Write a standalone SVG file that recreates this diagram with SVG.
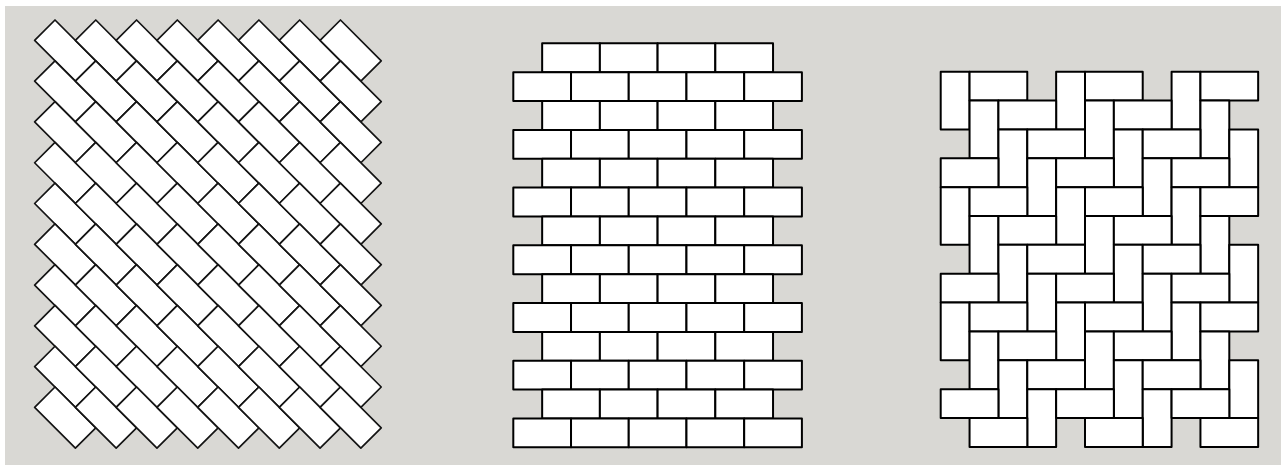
<svg xmlns="http://www.w3.org/2000/svg" xmlns:xlink="http://www.w3.org/1999/xlink" width="1281" height="465" viewBox="0 0 1281 465">
<style>
.l{fill:#fff;stroke:#141414;stroke-width:1.7;stroke-linejoin:round}
.m{fill:#fff;stroke:#000;stroke-width:2;stroke-linejoin:round}
</style>
<defs>
<polygon id="db" points="0,0 40.78,40.78 20.39,61.17 -20.39,20.39"/>
<g id="dcol">
<use href="#db" x="55" y="20"/><use href="#db" x="55" y="60.78"/><use href="#db" x="55" y="101.56"/><use href="#db" x="55" y="142.34"/><use href="#db" x="55" y="183.12"/><use href="#db" x="55" y="223.9"/><use href="#db" x="55" y="264.68"/><use href="#db" x="55" y="305.46"/><use href="#db" x="55" y="346.24"/><use href="#db" x="55" y="387.02"/>
</g>
<rect id="mb" width="57.72" height="28.86"/>
<g id="longRow"><use href="#mb" x="513.3"/><use href="#mb" x="571.02"/><use href="#mb" x="628.74"/><use href="#mb" x="686.46"/><use href="#mb" x="744.18"/></g>
<g id="shortRow"><use href="#mb" x="542.16"/><use href="#mb" x="599.88"/><use href="#mb" x="657.6"/><use href="#mb" x="715.32"/></g>
<rect id="v" width="28.86" height="57.72"/>
<rect id="h" width="57.72" height="28.86"/>
</defs>
<rect x="0" y="0" width="1281" height="465" fill="#fff"/>
<rect x="5" y="6" width="1276" height="459" fill="#d9d8d4"/>
<g id="diagonal-bond" class="l">
<use href="#dcol" x="0"/><use href="#dcol" x="40.78"/><use href="#dcol" x="81.56"/><use href="#dcol" x="122.34"/><use href="#dcol" x="163.12"/><use href="#dcol" x="203.9"/><use href="#dcol" x="244.68"/><use href="#dcol" x="285.46"/>
</g>
<g id="running-bond" class="m">
<use href="#shortRow" y="43.3"/><use href="#longRow" y="72.16"/><use href="#shortRow" y="101.02"/><use href="#longRow" y="129.88"/><use href="#shortRow" y="158.74"/><use href="#longRow" y="187.6"/><use href="#shortRow" y="216.46"/><use href="#longRow" y="245.32"/><use href="#shortRow" y="274.18"/><use href="#longRow" y="303.04"/><use href="#shortRow" y="331.9"/><use href="#longRow" y="360.76"/><use href="#shortRow" y="389.62"/><use href="#longRow" y="418.48"/>
</g>
<g id="herringbone" class="m">
<use href="#v" x="940.7" y="71.7"/><use href="#v" x="1056.14" y="71.7"/><use href="#v" x="1171.58" y="71.7"/>
<use href="#h" x="969.56" y="71.7"/><use href="#h" x="1085" y="71.7"/><use href="#h" x="1200.44" y="71.7"/>
<use href="#v" x="969.56" y="100.56"/><use href="#v" x="1085" y="100.56"/><use href="#v" x="1200.44" y="100.56"/>
<use href="#h" x="998.42" y="100.56"/><use href="#h" x="1113.86" y="100.56"/>
<use href="#v" x="998.42" y="129.42"/><use href="#v" x="1113.86" y="129.42"/><use href="#v" x="1229.3" y="129.42"/>
<use href="#h" x="1027.28" y="129.42"/><use href="#h" x="1142.72" y="129.42"/>
<use href="#v" x="1027.28" y="158.28"/><use href="#v" x="1142.72" y="158.28"/>
<use href="#h" x="940.7" y="158.28"/><use href="#h" x="1056.14" y="158.28"/><use href="#h" x="1171.58" y="158.28"/>
<use href="#v" x="940.7" y="187.14"/><use href="#v" x="1056.14" y="187.14"/><use href="#v" x="1171.58" y="187.14"/>
<use href="#h" x="969.56" y="187.14"/><use href="#h" x="1085" y="187.14"/><use href="#h" x="1200.44" y="187.14"/>
<use href="#v" x="969.56" y="216"/><use href="#v" x="1085" y="216"/><use href="#v" x="1200.44" y="216"/>
<use href="#h" x="998.42" y="216"/><use href="#h" x="1113.86" y="216"/>
<use href="#v" x="998.42" y="244.86"/><use href="#v" x="1113.86" y="244.86"/><use href="#v" x="1229.3" y="244.86"/>
<use href="#h" x="1027.28" y="244.86"/><use href="#h" x="1142.72" y="244.86"/>
<use href="#v" x="1027.28" y="273.72"/><use href="#v" x="1142.72" y="273.72"/>
<use href="#h" x="940.7" y="273.72"/><use href="#h" x="1056.14" y="273.72"/><use href="#h" x="1171.58" y="273.72"/>
<use href="#v" x="940.7" y="302.58"/><use href="#v" x="1056.14" y="302.58"/><use href="#v" x="1171.58" y="302.58"/>
<use href="#h" x="969.56" y="302.58"/><use href="#h" x="1085" y="302.58"/><use href="#h" x="1200.44" y="302.58"/>
<use href="#v" x="969.56" y="331.44"/><use href="#v" x="1085" y="331.44"/><use href="#v" x="1200.44" y="331.44"/>
<use href="#h" x="998.42" y="331.44"/><use href="#h" x="1113.86" y="331.44"/>
<use href="#v" x="998.42" y="360.3"/><use href="#v" x="1113.86" y="360.3"/><use href="#v" x="1229.3" y="360.3"/>
<use href="#h" x="1027.28" y="360.3"/><use href="#h" x="1142.72" y="360.3"/>
<use href="#v" x="1027.28" y="389.16"/><use href="#v" x="1142.72" y="389.16"/>
<use href="#h" x="940.7" y="389.16"/><use href="#h" x="1056.14" y="389.16"/><use href="#h" x="1171.58" y="389.16"/>
<use href="#h" x="969.56" y="418.02"/><use href="#h" x="1085" y="418.02"/><use href="#h" x="1200.44" y="418.02"/>
</g>
</svg>
